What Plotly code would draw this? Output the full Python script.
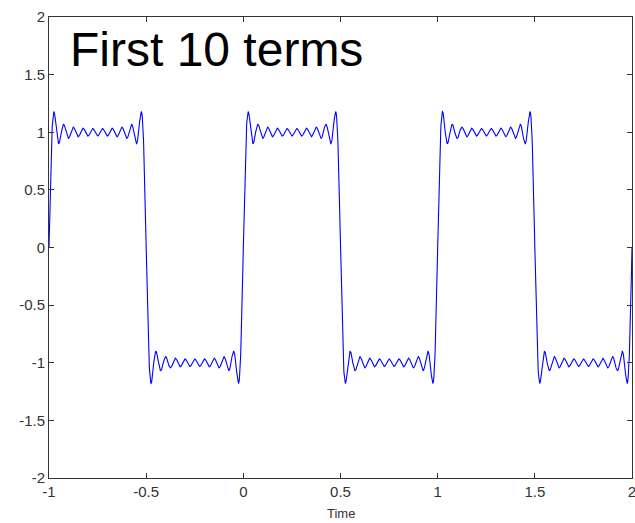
import numpy as np
import plotly.graph_objects as go

# Fourier series of a square wave (period 1): first 10 odd harmonics
harmonics = [1, 3, 5, 7, 9, 11, 13, 15, 17, 19]
amplitudes = [1.2732, 0.4244, 0.2546, 0.1819, 0.1415, 0.1157, 0.0979, 0.0849, 0.0749, 0.0670]
period = 1.0
t_start, t_end = -1.0, 2.0

x_ticks = [-1, -0.5, 0, 0.5, 1, 1.5, 2]
x_tick_labels = ["-1", "-0.5", "0", "0.5", "1", "1.5", "2"]
y_ticks = [-2, -1.5, -1, -0.5, 0, 0.5, 1, 1.5, 2]
y_tick_labels = ["-2", "-1.5", "-1", "-0.5", "0", "0.5", "1", "1.5", "2"]

t = np.linspace(t_start, t_end, 3001)
y = np.zeros_like(t)
for k, a in zip(harmonics, amplitudes):
    y += a * np.sin(2 * np.pi * k * t / period)

fig = go.Figure()
fig.add_trace(go.Scatter(x=t, y=y, mode="lines",
                         line=dict(color="#0000FF", width=1.1),
                         hoverinfo="skip", showlegend=False))

axis_common = dict(showgrid=False, zeroline=False, showline=True, linecolor="#333333",
                   linewidth=1, mirror="ticks", ticks="inside", ticklen=5,
                   tickcolor="#333333", tickwidth=1, automargin=False,
                   ticklabeloverflow="allow",
                   tickfont=dict(family="Liberation Sans, Arial, sans-serif", size=15, color="#333333"))

fig.update_xaxes(range=[t_start, t_end], tickmode="array", tickvals=x_ticks,
                 ticktext=x_tick_labels, **axis_common)
fig.update_yaxes(range=[-2, 2], tickmode="array", tickvals=y_ticks,
                 ticktext=y_tick_labels, **axis_common)

fig.add_annotation(x=-0.9, y=1.72, xref="x", yref="y", text="First 10 terms",
                   showarrow=False, xanchor="left", yanchor="middle",
                   font=dict(family="Liberation Sans, Arial, sans-serif", size=48, color="#000000"))
fig.add_annotation(x=0.5, y=0, xref="paper", yref="paper", text="Time",
                   showarrow=False, xanchor="center", yanchor="middle", yshift=-35,
                   font=dict(family="Liberation Sans, Arial, sans-serif", size=13, color="#333333"))

fig.update_layout(width=635, height=523, margin=dict(l=49, r=3, t=17, b=45),
                  paper_bgcolor="white", plot_bgcolor="white")

fig.write_html("out.html", config={"displayModeBar": False},
               post_script="document.body.style.margin='0';document.body.style.overflow='hidden';")
